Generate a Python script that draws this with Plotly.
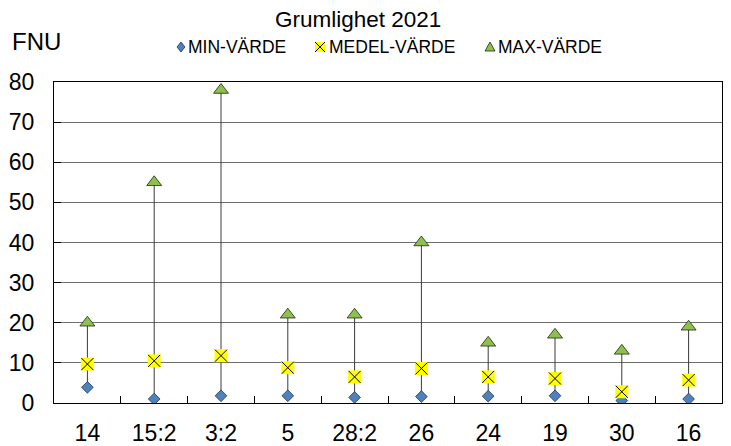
import plotly.graph_objects as go

# Turbidity per sampling point, 2021 (FNU)
stations = ["14", "15:2", "3:2", "5", "28:2", "26", "24", "19", "30", "16"]
min_values = [3.9, 1.0, 1.8, 1.8, 1.4, 1.6, 1.7, 1.8, 0.6, 1.0]
mean_values = [9.7, 10.5, 11.8, 8.8, 6.5, 8.6, 6.5, 6.1, 2.8, 5.7]
max_values = [20, 55, 78, 22, 22, 40, 15, 17, 13, 19]
series_names = ["MIN-VÄRDE", "MEDEL-VÄRDE", "MAX-VÄRDE"]

FONT = "Liberation Sans, Arial, sans-serif"
BLUE = "#4F81BD"
YELLOW = "#FFFF00"
GREEN = "#8DC04F"
W, H = 731, 446
L, R, T, B = 54, 9, 82, 43
PW, PH = W - L - R, H - T - B


def paper_x(px):
    return (px - L) / PW


def paper_y(py):
    return 1 + (T - py) / PH


fig = go.Figure()

# high-low stems from min to max
stem_x, stem_y = [], []
for s, lo, hi in zip(stations, min_values, max_values):
    stem_x += [s, s, None]
    stem_y += [lo, hi, None]
fig.add_trace(go.Scatter(x=stem_x, y=stem_y, mode="lines",
                         line=dict(color="#3a3a3a", width=1),
                         hoverinfo="skip", showlegend=False))

fig.add_trace(go.Scatter(x=stations, y=min_values, mode="markers", name=series_names[0],
                         marker=dict(symbol="diamond", size=9, color=BLUE,
                                     line=dict(color="#1f3550", width=0.8))))
fig.add_trace(go.Scatter(x=stations, y=mean_values, mode="markers", name=series_names[1],
                         marker=dict(symbol="square", size=13, color=YELLOW,
                                     line=dict(width=0))))
fig.add_trace(go.Scatter(x=stations, y=mean_values, mode="markers",
                         marker=dict(symbol="x-thin", size=12,
                                     line=dict(color="black", width=1)),
                         hoverinfo="skip"))
fig.add_trace(go.Scatter(x=stations, y=max_values, mode="markers", name=series_names[2],
                         marker=dict(symbol="triangle-up", size=13, color=GREEN,
                                     line=dict(color="#1e2a10", width=0.8))))

# legend row above the plot: key glyphs as pixel-sized shapes plus text labels
legend_y = 47
key_x = [181, 320, 490]
text_x = [186, 327, 496]
key_paths = [
    "M0,5 L4,0 L0,-5 L-4,0 Z",                     # diamond
    "M-5,-5 L5,-5 L5,5 L-5,5 Z",                   # square
    "M-5,-4 L5,-4 L0,5 Z",                         # triangle
]
key_fill = [BLUE, YELLOW, GREEN]
key_line = ["#1f3550", "rgba(0,0,0,0)", "#1e2a10"]
shapes = []
for kx, path, fill, edge in zip(key_x, key_paths, key_fill, key_line):
    shapes.append(dict(type="path", xref="paper", yref="paper",
                       xsizemode="pixel", ysizemode="pixel",
                       xanchor=paper_x(kx), yanchor=paper_y(legend_y),
                       path=path, fillcolor=fill, line=dict(color=edge, width=0.8)))
# the X across the mean key
shapes.append(dict(type="path", xref="paper", yref="paper",
                   xsizemode="pixel", ysizemode="pixel",
                   xanchor=paper_x(key_x[1]), yanchor=paper_y(legend_y),
                   path="M-5,-5 L5,5 M-5,5 L5,-5", line=dict(color="black", width=1)))

annotations = [dict(text="FNU", xref="paper", yref="paper",
                    x=paper_x(36), y=paper_y(42),
                    xanchor="center", yanchor="middle", showarrow=False,
                    font=dict(size=24, family=FONT))]
for name, tx in zip(series_names, text_x):
    annotations.append(dict(text=name, xref="paper", yref="paper",
                            x=paper_x(tx), y=paper_y(legend_y),
                            xanchor="left", yanchor="middle", showarrow=False,
                            font=dict(size=17.5, family=FONT)))

fig.update_layout(
    width=W, height=H,
    margin=dict(l=L, r=R, t=T, b=B, autoexpand=False),
    paper_bgcolor="white", plot_bgcolor="white",
    font=dict(family=FONT, color="black"),
    title=dict(text="Grumlighet 2021", x=0.49, xanchor="center",
               y=1 - 19 / H, yanchor="middle", font=dict(size=22.5, family=FONT)),
    showlegend=False,
    annotations=annotations,
    shapes=shapes,
)

fig.update_xaxes(
    type="category", categoryorder="array", categoryarray=stations,
    range=[-0.5, len(stations) - 0.5], automargin=False,
    showline=True, linecolor="black", linewidth=1.3, mirror=True,
    ticks="inside", tickson="boundaries", ticklen=7, tickcolor="black",
    tickfont=dict(size=23, family=FONT), ticklabelstandoff=9,
    showgrid=False)
fig.update_yaxes(
    range=[0, 80], dtick=10, tick0=0, automargin=False,
    showline=True, linecolor="black", linewidth=1.3, mirror=True,
    ticks="inside", ticklen=7, tickcolor="black",
    tickfont=dict(size=23, family=FONT), ticklabelstandoff=14,
    showgrid=True, gridcolor="#6e6e6e", gridwidth=1.2,
    zeroline=False)

fig.write_html("out.html")
